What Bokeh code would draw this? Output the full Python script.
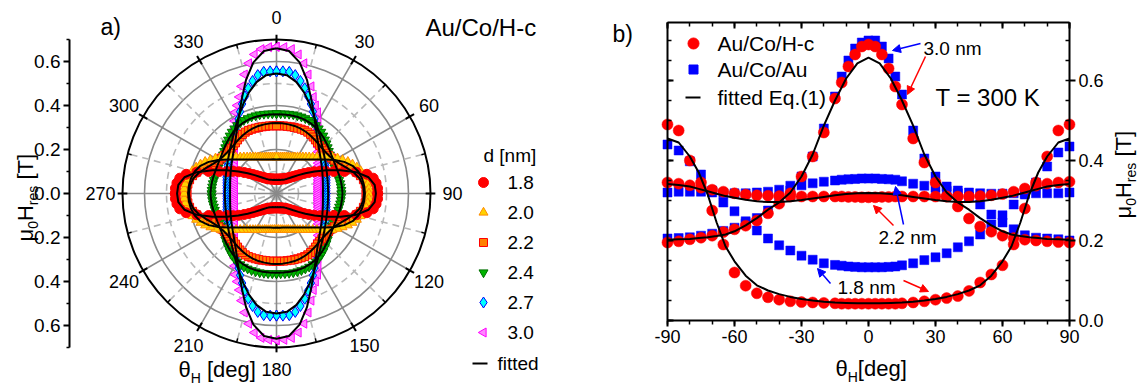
import numpy as np
from bokeh.plotting import figure
from bokeh.models import (Range1d, LinearAxis, FixedTicker, CustomJSTickFormatter,
                          PrintfTickFormatter, Label, Arrow, NormalHead)
from bokeh.embed import file_html
from bokeh.resources import INLINE
from bokeh.core.properties import value

FONT = "Liberation Sans"

# ---------------- panel a : polar data (first quadrant, symmetric) ----------------
theta_a = list(range(0, 91, 3))
ra_18 = [0.065, 0.065, 0.0655, 0.066, 0.067, 0.068, 0.0695, 0.071, 0.073, 0.075, 0.078,
         0.082, 0.087, 0.093, 0.101, 0.110, 0.122, 0.137, 0.155, 0.175, 0.198, 0.222,
         0.246, 0.279, 0.324, 0.375, 0.420, 0.445, 0.455, 0.460, 0.460]
ra_20 = [0.165, 0.165, 0.166, 0.167, 0.169, 0.171, 0.173, 0.177, 0.181, 0.185, 0.191,
         0.197, 0.204, 0.212, 0.222, 0.233, 0.247, 0.262, 0.281, 0.303, 0.320, 0.337,
         0.355, 0.370, 0.384, 0.396, 0.406, 0.413, 0.417, 0.420, 0.420]
ra_22 = [0.308, 0.308, 0.309, 0.309, 0.310, 0.311, 0.312, 0.313, 0.314, 0.313, 0.310,
         0.306, 0.301, 0.296, 0.293, 0.291, 0.290, 0.290, 0.293, 0.297, 0.303, 0.312,
         0.322, 0.335, 0.355, 0.375, 0.390, 0.400, 0.405, 0.408, 0.408]
ra_24 = [0.364, 0.364, 0.365, 0.366, 0.367, 0.367, 0.367, 0.366, 0.365, 0.362, 0.358,
         0.352, 0.346, 0.338, 0.329, 0.321, 0.313, 0.306, 0.300, 0.295, 0.292, 0.290,
         0.289, 0.289, 0.289, 0.290, 0.291, 0.293, 0.294, 0.295, 0.295]
ra_27 = [0.555, 0.556, 0.556, 0.545, 0.523, 0.495, 0.464, 0.436, 0.407, 0.380, 0.360,
         0.342, 0.327, 0.313, 0.301, 0.291, 0.282, 0.274, 0.267, 0.261, 0.256, 0.251,
         0.247, 0.243, 0.239, 0.235, 0.232, 0.230, 0.228, 0.227, 0.227]
ra_30 = [0.667, 0.666, 0.660, 0.640, 0.605, 0.560, 0.512, 0.470, 0.438, 0.414, 0.380,
         0.349, 0.323, 0.302, 0.284, 0.269, 0.256, 0.245, 0.235, 0.227, 0.219, 0.213,
         0.208, 0.204, 0.200, 0.197, 0.194, 0.192, 0.191, 0.190, 0.190]

theta_fit_a = list(range(0, 91, 5))
fa_18 = [0.062, 0.062, 0.063, 0.064, 0.066, 0.069, 0.074, 0.081, 0.092, 0.108, 0.130,
         0.160, 0.200, 0.250, 0.310, 0.375, 0.425, 0.448, 0.452]
fa_20 = [0.155, 0.156, 0.157, 0.160, 0.165, 0.171, 0.179, 0.189, 0.202, 0.219, 0.241,
         0.270, 0.305, 0.340, 0.368, 0.385, 0.395, 0.400, 0.402]
fa_22 = [0.320, 0.320, 0.319, 0.318, 0.315, 0.311, 0.306, 0.300, 0.295, 0.292, 0.292,
         0.295, 0.303, 0.318, 0.340, 0.365, 0.385, 0.395, 0.398]
fa_24 = [0.360, 0.360, 0.361, 0.361, 0.360, 0.356, 0.350, 0.342, 0.332, 0.322, 0.313,
         0.305, 0.300, 0.297, 0.296, 0.297, 0.298, 0.299, 0.300]
fa_27 = [0.545, 0.540, 0.515, 0.478, 0.437, 0.398, 0.365, 0.337, 0.314, 0.296, 0.281,
         0.269, 0.259, 0.251, 0.245, 0.240, 0.237, 0.235, 0.235]
fa_30 = [0.660, 0.650, 0.605, 0.535, 0.460, 0.400, 0.355, 0.320, 0.295, 0.275, 0.260,
         0.248, 0.238, 0.230, 0.223, 0.218, 0.214, 0.212, 0.211]

labels_a = ["1.8", "2.0", "2.2", "2.4", "2.7", "3.0"]
angle_labels = [0, 30, 60, 90, 120, 150, 180, 210, 240, 270, 300, 330]
radial_ticks = [-0.6, -0.4, -0.2, 0.0, 0.2, 0.4, 0.6]

# ---------------- panel b : H_res vs theta_H ----------------
theta_b = [-90, -85, -80, -75, -70, -65, -60, -55, -50, -45, -40, -35, -30, -25, -20, -15,
           -12, -9, -6, -3, 0, 3, 6, 9, 12,
           15, 20, 25, 30, 35, 40, 45, 50, 55, 60, 65, 70, 75, 80, 85, 90]
hc_18 = [0.490, 0.475, 0.400, 0.345, 0.275, 0.190, 0.120, 0.087, 0.068, 0.058, 0.052, 0.048, 0.046, 0.045, 0.044, 0.043,
         0.042, 0.042, 0.042, 0.042, 0.042, 0.042, 0.042, 0.042, 0.042,
         0.043, 0.045, 0.048, 0.052, 0.056, 0.061, 0.074, 0.095, 0.115, 0.138, 0.190, 0.280, 0.345, 0.410, 0.475, 0.490]
hc_22 = [0.345, 0.342, 0.338, 0.332, 0.327, 0.322, 0.318, 0.315, 0.313, 0.312, 0.311, 0.310, 0.310, 0.310, 0.310, 0.310,
         0.310, 0.309, 0.309, 0.308, 0.308, 0.308, 0.309, 0.309, 0.310,
         0.310, 0.310, 0.310, 0.310, 0.310, 0.310, 0.310, 0.311, 0.313, 0.316, 0.322, 0.330, 0.337, 0.342, 0.345, 0.347]
hc_30 = [0.195, 0.198, 0.203, 0.207, 0.212, 0.221, 0.228, 0.237, 0.250, 0.268, 0.292, 0.318, 0.360, 0.410, 0.470, 0.555,
         0.595, 0.635, 0.665, 0.685, 0.690, 0.685, 0.665, 0.630, 0.585,
         0.540, 0.455, 0.395, 0.345, 0.310, 0.285, 0.255, 0.235, 0.222, 0.212, 0.206, 0.202, 0.200, 0.198, 0.196, 0.195]
au_18 = [0.440, 0.425, 0.398, 0.365, 0.325, 0.295, 0.273, 0.248, 0.225, 0.205, 0.188, 0.175, 0.162, 0.152, 0.143, 0.139,
         0.137, 0.135, 0.134, 0.133, 0.133, 0.133, 0.133, 0.134, 0.135,
         0.138, 0.143, 0.151, 0.158, 0.168, 0.183, 0.198, 0.215, 0.240, 0.263, 0.290, 0.315, 0.345, 0.385, 0.420, 0.435]
au_22 = [0.205, 0.206, 0.208, 0.212, 0.217, 0.224, 0.232, 0.243, 0.256, 0.275, 0.300, 0.325, 0.338, 0.343, 0.347, 0.350,
         0.352, 0.353, 0.354, 0.355, 0.355, 0.355, 0.354, 0.353, 0.352,
         0.348, 0.342, 0.337, 0.331, 0.324, 0.318, 0.310, 0.290, 0.265, 0.245, 0.228, 0.213, 0.207, 0.205, 0.203, 0.200]
au_30 = [0.320, 0.322, 0.322, 0.322, 0.320, 0.318, 0.318, 0.318, 0.320, 0.322, 0.327, 0.337, 0.360, 0.410, 0.480, 0.560,
         0.610, 0.650, 0.680, 0.695, 0.700, 0.700, 0.685, 0.655, 0.610,
         0.565, 0.475, 0.405, 0.360, 0.335, 0.325, 0.320, 0.318, 0.317, 0.317, 0.318, 0.318, 0.318, 0.318, 0.318, 0.320]

theta_fit_b = [-90, -85, -80, -76, -72, -68, -64, -60, -55, -50, -45, -40, -35, -30, -25, -20, -15, -10, -5,
               0, 5, 10, 15, 20, 25, 30, 35, 40, 45, 50, 55, 60, 64, 68, 72, 76, 80, 85, 90]
fb_18 = [0.455, 0.445, 0.410, 0.370, 0.315, 0.245, 0.185, 0.148, 0.112, 0.088, 0.075, 0.066, 0.059, 0.054, 0.050, 0.047, 0.045, 0.044, 0.043,
         0.043, 0.043, 0.044, 0.045, 0.047, 0.050, 0.054, 0.059, 0.066, 0.075, 0.088, 0.112, 0.148, 0.185, 0.245, 0.315, 0.370, 0.410, 0.445, 0.455]
fb_22 = [0.341, 0.339, 0.335, 0.329, 0.323, 0.317, 0.311, 0.307, 0.302, 0.298, 0.296, 0.296, 0.298, 0.301, 0.305, 0.309, 0.313, 0.316, 0.318,
         0.319, 0.318, 0.316, 0.313, 0.309, 0.305, 0.301, 0.298, 0.296, 0.296, 0.298, 0.302, 0.307, 0.311, 0.317, 0.323, 0.329, 0.335, 0.339, 0.341]
fb_30 = [0.202, 0.203, 0.204, 0.206, 0.208, 0.211, 0.215, 0.223, 0.238, 0.256, 0.277, 0.295, 0.320, 0.360, 0.415, 0.487, 0.550, 0.605, 0.643,
         0.657, 0.643, 0.605, 0.550, 0.487, 0.415, 0.360, 0.320, 0.295, 0.277, 0.256, 0.238, 0.223, 0.215, 0.211, 0.208, 0.206, 0.204, 0.203, 0.202]

x_ticks_b = [-90, -60, -30, 0, 30, 60, 90]
y_ticks_b = [0.0, 0.2, 0.4, 0.6]

# ---------------- helpers ----------------
WID = {'μ': 0.576, '0': 0.556, 'H': 0.722, 'r': 0.333, 'e': 0.556, 's': 0.5, ' ': 0.278,
       '[': 0.278, ']': 0.278, 'T': 0.611, 'θ': 0.556, 'd': 0.556, 'g': 0.556}

W, H = 1142, 387
PX = 220.0                  # pixels per tesla in the polar panel
CXs, CYs = 276.0, 193.0     # polar centre (px)


def ax_(sx):
    return (sx - CXs) / PX


def ay_(sy):
    return (CYs - sy) / PX


def bx(sx):
    return (sx - 667) * 180.0 / 402.0 - 90


def by(sy):
    return (320 - sy) / 400.0


def full_curve(theta, r):
    th = np.asarray(theta, float)
    rr = np.asarray(r, float)
    phi = np.concatenate([th, 180 - th[::-1], 180 + th, 360 - th[::-1]])
    rad = np.concatenate([rr, rr[::-1], rr, rr[::-1]])
    a = np.deg2rad(phi)
    return rad * np.sin(a), rad * np.cos(a)


p = figure(width=W, height=H, x_range=Range1d(ax_(0), ax_(W)), y_range=Range1d(ay_(H), ay_(0)),
           x_axis_type=None, y_axis_type=None, output_backend="svg", toolbar_location=None,
           min_border=0)
p.extra_x_ranges = {"b": Range1d(bx(0), bx(W))}
p.extra_y_ranges = {"b": Range1d(by(H), by(0))}
p.outline_line_color = None
p.background_fill_color = "white"
p.border_fill_color = "white"


def place_pieces(pieces, along0, cross_main, cross_sub, cx, cy, vertical, rn="default"):
    """Compose a title with subscripts; every piece is centred on its own middle line."""
    pos = 0.0
    for txt, size, sub in pieces:
        t = txt.lstrip(' ')
        pos += (len(txt) - len(t)) * WID[' '] * size
        cross = cross_sub if sub else cross_main
        if vertical:
            sx, sy, ang = cross, along0 - pos, np.pi / 2
        else:
            sx, sy, ang = along0 + pos, cross, 0.0
        p.add_layout(Label(x=cx(sx), y=cy(sy), text=t, angle=ang, text_font=FONT,
                           text_font_size=f"{size}px", text_baseline="middle",
                           text_align="left", text_color="black",
                           x_range_name=rn, y_range_name=rn))
        pos += sum(WID[c] for c in t) * size


def label(sx, sy, txt, size, cx, cy, rn="default", align="left"):
    p.add_layout(Label(x=cx(sx), y=cy(sy), text=txt, text_font=FONT, text_font_size=size,
                       text_baseline="middle", text_align=align, text_color="black",
                       x_range_name=rn, y_range_name=rn))


# ================= panel a =================
GRID = "#8a8a8a"
GRID_D = "#b9b9b9"
RMAX = 0.7
p.circle(x=[0, 0, 0], y=[0, 0, 0], radius=[0.1, 0.3, 0.5], fill_color=None,
         line_color=GRID_D, line_width=1.6, line_dash="7 5")
p.circle(x=[0, 0, 0], y=[0, 0, 0], radius=[0.2, 0.4, 0.6], fill_color=None,
         line_color=GRID, line_width=1.6)
maj = np.deg2rad(np.arange(0, 360, 30))
mnr = np.deg2rad(np.arange(15, 360, 30))
p.segment(x0=0, y0=0, x1=RMAX * np.sin(mnr), y1=RMAX * np.cos(mnr), line_color=GRID_D,
          line_width=1.6, line_dash="7 5")
p.segment(x0=0, y0=0, x1=RMAX * np.sin(maj), y1=RMAX * np.cos(maj), line_color=GRID,
          line_width=1.6)
p.circle(x=[0], y=[0], radius=[RMAX], fill_color=None, line_color="black", line_width=2)
p.segment(x0=(RMAX - 0.022) * np.sin(maj), y0=(RMAX - 0.022) * np.cos(maj),
          x1=(RMAX + 0.022) * np.sin(maj), y1=(RMAX + 0.022) * np.cos(maj),
          line_color="black", line_width=2)
p.segment(x0=(RMAX - 0.018) * np.sin(mnr), y0=(RMAX - 0.018) * np.cos(mnr),
          x1=RMAX * np.sin(mnr), y1=RMAX * np.cos(mnr), line_color="black", line_width=1.5)

la = np.deg2rad(angle_labels)
p.text(x=0.80 * np.sin(la), y=0.80 * np.cos(la), text=[str(a) for a in angle_labels],
       text_align="center", text_baseline="middle", text_font=value(FONT),
       text_font_size="18px", text_color="black")

series_a = [
    (ra_30, fa_30, "triangle", "#ff88ff", "#ff00ff", 9, np.pi / 2),
    (ra_27, fa_27, "diamond", "#00ffff", "#0000ff", 11, 0.0),
    (ra_24, fa_24, "inverted_triangle", "#00b400", "#007000", 9, 0.0),
    (ra_22, fa_22, "square", "#ff8000", "#ff0000", 8, 0.0),
    (ra_20, fa_20, "triangle", "#ffd200", "#ff8c00", 9, 0.0),
    (ra_18, fa_18, "circle", "#ff0000", "#ff0000", 10, 0.0),
]
for r, f, mk, fc, lc, sz, ang in series_a:
    x, y = full_curve(theta_a, r)
    p.scatter(x=x, y=y, marker=mk, size=sz, fill_color=fc, line_color=lc, line_width=1,
              angle=ang)
for r, f, mk, fc, lc, sz, ang in series_a:
    x, y = full_curve(theta_fit_a, f)
    p.line(x=x, y=y, line_color="black", line_width=2)

# radial axis (real axis, pinned at the left of the polar panel)
rax = LinearAxis(bounds=(-0.7, 0.7), fixed_location=ax_(69),
                 ticker=FixedTicker(ticks=radial_ticks,
                                    minor_ticks=[-0.7, -0.5, -0.3, -0.1, 0.1, 0.3, 0.5, 0.7]),
                 formatter=CustomJSTickFormatter(code="return Math.abs(tick).toFixed(1);"))
rax.axis_line_width = 2
rax.major_tick_line_width = 2
rax.minor_tick_line_width = 1.5
rax.major_tick_out = 6
rax.major_tick_in = 0
rax.minor_tick_out = 3
rax.minor_tick_in = 0
rax.major_label_standoff = 3
rax.major_label_text_font = FONT
rax.major_label_text_font_size = "19px"
rax.major_label_text_color = "black"
p.add_layout(rax, "left")

place_pieces([("μ", 22, False), ("0", 14, True), ("H", 22, False), ("res", 14, True),
              (" [T]", 22, False)], 241, 25, 32, ax_, ay_, True)
place_pieces([("θ", 22, False), ("H", 14, True), (" [deg]", 22, False)],
             178, 369, 377, ax_, ay_, False)
label(100, 26, "a)", "23px", ax_, ay_)
label(425, 27, "Au/Co/H-c", "24px", ax_, ay_)

# legend panel a
label(483, 155, "d [nm]", "19px", ax_, ay_)
leg_rows = [182 + 30 * k for k in range(6)]
for k, (r, f, mk, fc, lc, sz, ang) in enumerate(reversed(series_a)):
    p.scatter(x=[ax_(483)], y=[ay_(leg_rows[k])], marker=mk, size=sz, fill_color=fc,
              line_color=lc, line_width=1, angle=ang)
    label(507, leg_rows[k], labels_a[k], "19px", ax_, ay_)
p.line(x=[ax_(472), ax_(487)], y=[ay_(363), ay_(363)], line_color="black", line_width=2)
label(497, 363, "fitted", "19px", ax_, ay_)

# ================= panel b =================
xt = FixedTicker(ticks=x_ticks_b, minor_ticks=list(range(-90, 91, 10)))
yt = FixedTicker(ticks=y_ticks_b, minor_ticks=[round(0.05 * k, 2) for k in range(15)])


def style(a, show, tin, tout, min_in, min_out):
    a.axis_line_width = 2
    a.major_tick_line_width = 2
    a.minor_tick_line_width = 1.5
    a.major_tick_in = tin
    a.major_tick_out = tout
    a.minor_tick_in = min_in
    a.minor_tick_out = min_out
    a.major_label_text_font = FONT
    a.major_label_standoff = 3
    a.major_label_text_font_size = "18px"
    a.major_label_text_color = "black" if show else None


bax = LinearAxis(ticker=xt, formatter=PrintfTickFormatter(format="%d"), x_range_name="b",
                 y_range_name="b", fixed_location=0.0, bounds=(-90, 90))
style(bax, True, 0, 6, 0, 4)
p.add_layout(bax, "below")
tax = LinearAxis(ticker=xt, x_range_name="b", y_range_name="b", fixed_location=0.745,
                 bounds=(-90, 90))
style(tax, False, 6, 0, 4, 0)
p.add_layout(tax, "above")
lax = LinearAxis(ticker=yt, x_range_name="b", y_range_name="b", fixed_location=-90,
                 bounds=(0, 0.745))
style(lax, False, 6, 0, 4, 0)
p.add_layout(lax, "left")
rgt = LinearAxis(ticker=yt, formatter=PrintfTickFormatter(format="%.1f"), x_range_name="b",
                 y_range_name="b", fixed_location=90, bounds=(0, 0.745))
style(rgt, True, 0, 6, 4, 0)
p.add_layout(rgt, "right")

for ys in (au_18, au_22, au_30):
    p.scatter(x=theta_b, y=ys, marker="square", size=9, fill_color="#0000ff",
              line_color="#0000ff", line_width=0.5, x_range_name="b", y_range_name="b")
for ys in (hc_18, hc_22, hc_30):
    p.scatter(x=theta_b, y=ys, marker="circle", size=11, fill_color="#ff0000",
              line_color="#ff0000", line_width=0.5, x_range_name="b", y_range_name="b")
for ys in (fb_18, fb_22, fb_30):
    p.line(x=theta_fit_b, y=ys, line_color="black", line_width=2, x_range_name="b",
           y_range_name="b")

# legend panel b
p.scatter(x=[bx(693)], y=[by(43)], marker="circle", size=11, fill_color="#ff0000",
          line_color="#ff0000", x_range_name="b", y_range_name="b")
p.scatter(x=[bx(693)], y=[by(69)], marker="square", size=9, fill_color="#0000ff",
          line_color="#0000ff", x_range_name="b", y_range_name="b")
p.line(x=[bx(685), bx(700)], y=[by(97), by(97)], line_color="black", line_width=2,
       x_range_name="b", y_range_name="b")
for sy, t in ((43, "Au/Co/H-c"), (69, "Au/Co/Au"), (97, "fitted Eq.(1)")):
    label(717, sy, t, "21px", bx, by, "b")

for txt, sx, sy, fs in (("3.0 nm", 923, 48, "19px"), ("T = 300 K", 935, 97, "24px"),
                        ("2.2 nm", 878, 237, "19px"), ("1.8 nm", 837, 287, "19px")):
    label(sx, sy, txt, fs, bx, by, "b")


def arrow(c, s, e):
    p.add_layout(Arrow(end=NormalHead(size=8, fill_color=c, line_color=c, line_width=1),
                       x_start=bx(s[0]), y_start=by(s[1]), x_end=bx(e[0]), y_end=by(e[1]),
                       line_color=c, line_width=1.5, x_range_name="b", y_range_name="b"))


arrow("#0000ff", (920, 43), (892, 50))
arrow("#ff0000", (925, 56), (907, 94))
arrow("#ff0000", (893, 225), (873, 205))
arrow("#0000ff", (903, 224), (895, 186))
arrow("#0000ff", (830, 283), (817, 268))
arrow("#ff0000", (903, 280), (928, 291))

label(612, 33, "b)", "23px", bx, by, "b")
place_pieces([("θ", 22, False), ("H", 14, True), ("[deg]", 22, False)],
             835, 368, 376, bx, by, False, "b")
place_pieces([("μ", 22, False), ("0", 14, True), ("H", 22, False), ("res", 14, True),
              (" [T]", 22, False)], 218, 1123, 1130, bx, by, True, "b")

open("out.html", "w").write(file_html(p, INLINE))
